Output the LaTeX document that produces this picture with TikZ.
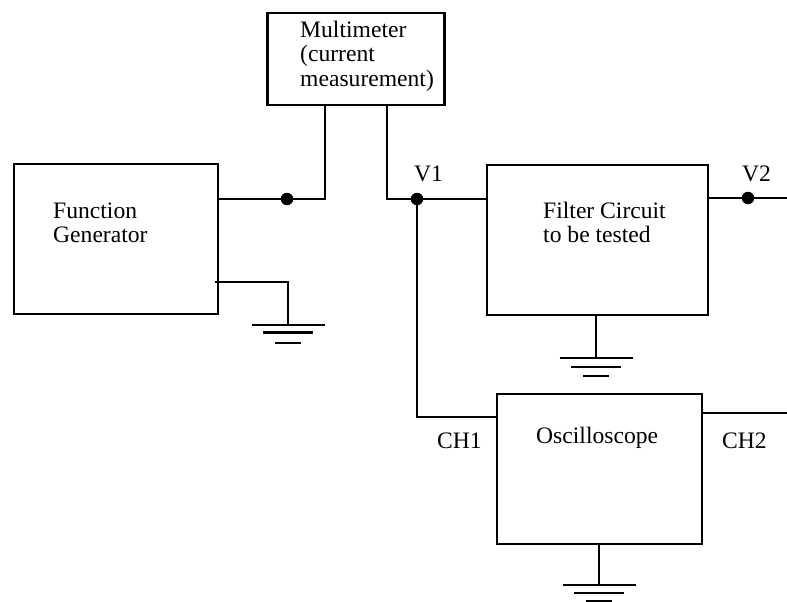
\documentclass[tikz,border=0pt]{standalone}
\usepackage{fontspec}
\setmainfont{Liberation Serif}
\begin{document}
\begin{tikzpicture}[x=1pt,y=-1pt,
  wire/.style={draw=black,line width=2.6pt,line cap=rect},
  blk/.style={draw=black,line width=2.6pt,minimum width=#1,inner sep=0pt},
  lbl/.style={font=\fontsize{23.6}{25}\selectfont,inner sep=0pt,anchor=base west},
  jdot/.style={circle,fill=black,minimum size=12.5pt,inner sep=0pt},
  gbar/.style={draw=black,line width=2.6pt}]
\useasboundingbox (0,0) rectangle (787,602);
\node[blk=204pt,minimum height=150pt] (fg) at (116,239) {};
\node[blk=177pt,minimum height=92pt] (mm) at (356,59) {};
\node[blk=221pt,minimum height=150pt] (flt) at (597.5,240) {};
\node[blk=205pt,minimum height=150pt] (osc) at (599.5,469) {};
\node[lbl] (t1) at (53,218) {Function};
\node[lbl] (t2) at (53,242) {Generator};
\node[lbl] (t3) at (300,38) {Multimeter};
\node[lbl] (t4) at (300,62) {(current};
\node[lbl] (t5) at (300,86) {measurement)};
\node[lbl] (t6) at (543,218) {Filter Circuit};
\node[lbl] (t7) at (543,242) {to be tested};
\node[lbl] (t8) at (536,443) {Oscilloscope};
\node[lbl] (v1) at (414,181) {V1};
\node[lbl] (v2) at (742,181) {V2};
\node[lbl] (c1) at (437,448) {CH1};
\node[lbl] (c2) at (722,448) {CH2};
\node[jdot] (d1) at (287,199) {};
\node[jdot] (d2) at (417,199) {};
\node[jdot] (d3) at (748,198) {};
\coordinate (e2) at (787,198);
\coordinate (e3) at (787,413);
\coordinate (a1) at (325,199);
\coordinate (a2) at (387,199);
\coordinate (fgg) at (216,282);
\coordinate (g1) at (288,325);
\coordinate (g2) at (596,358);
\coordinate (g3) at (599,585);
\coordinate (k) at (417,417);
\draw[wire] (fg.east |- d1) -- (a1) -- (a1 |- mm.south);
\draw[wire] (a2 |- mm.south) -- (a2) -- (flt.west |- a2);
\draw[wire] (d2) -- (k) -- (osc.west |- k);
\draw[wire] (flt.east |- d3) -- (e2);
\draw[wire] (osc.east |- e3) -- (e3);
\draw[wire] (fgg) -| (g1);
\draw[wire] (flt.south -| g2) -- (g2);
\draw[wire] (osc.south -| g3) -- (g3);
\foreach \g/\p/\q in {g1/7.5/18,g2/9/18,g3/8/16.5}{
  \draw[gbar] ([xshift=-36.5pt]\g) -- ([xshift=36.5pt]\g);
  \draw[gbar] ([xshift=-25pt,yshift=-\p pt]\g) -- ([xshift=25pt,yshift=-\p pt]\g);
  \draw[gbar] ([xshift=-13pt,yshift=-\q pt]\g) -- ([xshift=13pt,yshift=-\q pt]\g);
}
\end{tikzpicture}
\end{document}
